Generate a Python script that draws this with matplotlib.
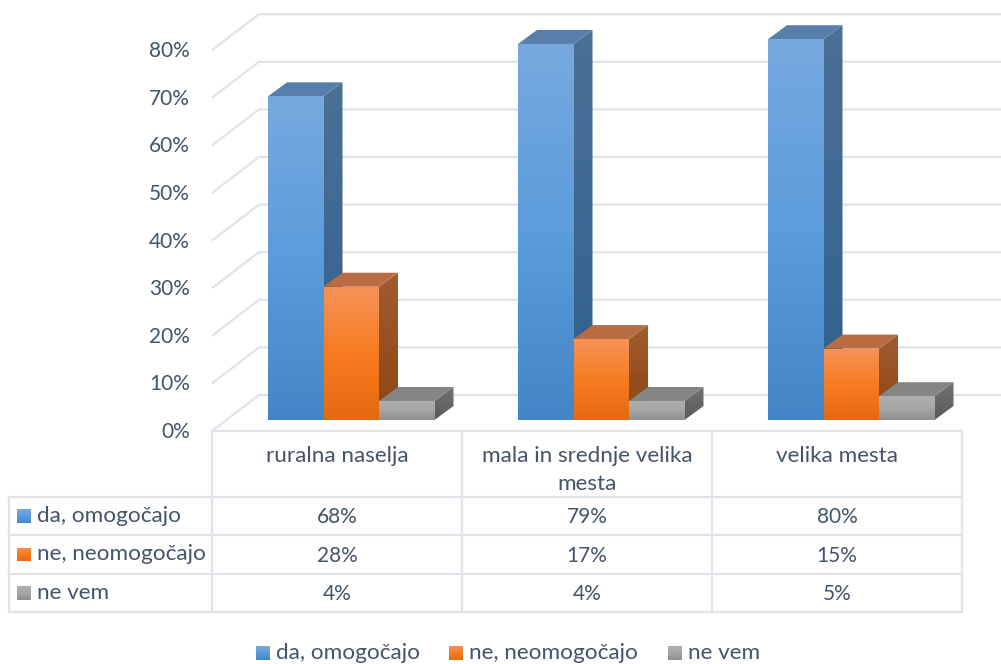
import numpy as np
import matplotlib.pyplot as plt
from matplotlib.colors import LinearSegmentedColormap
from matplotlib.patches import Polygon

plt.rcParams['font.family'] = ['Lato', 'DejaVu Sans']

# Daten
kategorien = ['ruralna naselja', 'mala in srednje velika\nmesta', 'velika mesta']
serien = ['da, omogočajo', 'ne, neomogočajo', 'ne vem']
da_werte = [68, 79, 80]
ne_werte = [28, 17, 15]
nevem_werte = [4, 4, 5]
y_ticks = [0, 10, 20, 30, 40, 50, 60, 70, 80]

# Farben: Verlauf vorne, Seite, Deckel
vorne_farben = [['#77A9DF', '#5B9CDB', '#4385C6'],
                ['#F59259', '#F77C22', '#E4690F'],
                ['#B0B0B0', '#A6A6A6', '#8F8F8F']]
seite_farben = [['#4C7096', '#2E5F8E'], ['#A05C32', '#8D4510'], ['#727272', '#5A5A5A']]
deckel_farben = ['#587FAB', '#B96C42', '#858585']
text_farbe = '#44546A'
gitter_farbe = '#E0E3EA'
schrift_text = 16.2
schrift_zahl = 15

# Geometrie in Pixeln
px_pro_prozent = 4.76
boden_vorne = 431
boden_hinten = 395
wand_x0, wand_x1 = 212, 259
balken_boden = 420
balken_breite = 55.5
tiefe_x, tiefe_y = 19, 14
gruppen_start = [268, 518, 768]
tabelle_spalten = [212, 462, 712, 962]
tabelle_zeilen = [431, 497, 535, 574, 612]

fig = plt.figure(figsize=(10.01, 6.64), dpi=100)
ax = fig.add_axes([0, 0, 1, 1])
ax.set_xlim(0, 1001)
ax.set_ylim(664, 0)
ax.axis('off')


def verlauf_poly(punkte, farben, z):
    # Polygon mit vertikalem Farbverlauf
    punkte = np.array(punkte)
    cmap = LinearSegmentedColormap.from_list('v', farben)
    grad = np.linspace(0, 1, 128).reshape(-1, 1)
    extent = [punkte[:, 0].min(), punkte[:, 0].max(), punkte[:, 1].max(), punkte[:, 1].min()]
    bild = ax.imshow(grad, cmap=cmap, extent=extent, aspect='auto', origin='upper',
                     interpolation='bilinear', zorder=z)
    clip = Polygon(punkte, closed=True, transform=ax.transData, fc='none', ec='none')
    ax.add_patch(clip)
    bild.set_clip_path(clip)


# Gitterlinien
for wert in y_ticks:
    h = wert * px_pro_prozent
    ax.plot([wand_x0, wand_x1, 1001], [boden_vorne - h, boden_hinten - h, boden_hinten - h],
            color=gitter_farbe, lw=1.6, zorder=1, solid_capstyle='butt')
    ax.text(190, boden_vorne - h + 1, f'{wert}%', ha='right', va='center',
            fontsize=schrift_zahl, color=text_farbe)

# Balken
z = 3
for g, start in enumerate(gruppen_start):
    for s, werte in enumerate([da_werte, ne_werte, nevem_werte]):
        x0 = start + s * balken_breite
        x1 = x0 + balken_breite
        oben = balken_boden - werte[g] * px_pro_prozent
        verlauf_poly([(x1, balken_boden), (x1 + tiefe_x, balken_boden - tiefe_y),
                      (x1 + tiefe_x, oben - tiefe_y), (x1, oben)], seite_farben[s], z)
        ax.add_patch(Polygon([(x0, oben), (x1, oben), (x1 + tiefe_x, oben - tiefe_y),
                              (x0 + tiefe_x, oben - tiefe_y)], closed=True,
                             fc=deckel_farben[s], ec='none', zorder=z))
        verlauf_poly([(x0, oben), (x1, oben), (x1, balken_boden), (x0, balken_boden)],
                     vorne_farben[s], z + 1)
        z += 2

# Datentabelle
z_t = 100
for y in tabelle_zeilen:
    x_links = tabelle_spalten[0] if y == tabelle_zeilen[0] else 9
    ax.plot([x_links, tabelle_spalten[-1]], [y, y], color=gitter_farbe, lw=1.6, zorder=z_t)
for x in tabelle_spalten:
    ax.plot([x, x], [tabelle_zeilen[0], tabelle_zeilen[-1]], color=gitter_farbe, lw=1.6, zorder=z_t)
ax.plot([9, 9], [tabelle_zeilen[1], tabelle_zeilen[-1]], color=gitter_farbe, lw=1.6, zorder=z_t)

for i, name in enumerate(kategorien):
    mitte = (tabelle_spalten[i] + tabelle_spalten[i + 1]) / 2
    ax.text(mitte, 445.5, name, ha='center', va='top', fontsize=schrift_text, color=text_farbe,
            linespacing=1.5, zorder=z_t)


def legenden_quadrat(x, y, s):
    verlauf_poly([(x, y), (x + 14, y), (x + 14, y + 14), (x, y + 14)], vorne_farben[s], z_t)


for s, werte in enumerate([da_werte, ne_werte, nevem_werte]):
    y_mitte = (tabelle_zeilen[s + 1] + tabelle_zeilen[s + 2]) / 2
    legenden_quadrat(17, y_mitte - 7, s)
    ax.text(37, y_mitte, serien[s], ha='left', va='center', fontsize=schrift_text,
            color=text_farbe, zorder=z_t)
    for i, wert in enumerate(werte):
        mitte = (tabelle_spalten[i] + tabelle_spalten[i + 1]) / 2
        ax.text(mitte, y_mitte + 1, f'{wert}%', ha='center', va='center', fontsize=schrift_zahl,
                color=text_farbe, zorder=z_t)

# Legende unten
legende_x = [256, 449, 668]
for s, x in enumerate(legende_x):
    legenden_quadrat(x, 646, s)
    ax.text(x + 20, 653, serien[s], ha='left', va='center', fontsize=schrift_text,
            color=text_farbe, zorder=z_t)

ax.set_xlim(0, 1001)
ax.set_ylim(664, 0)
fig.savefig('out.png', dpi=100)
